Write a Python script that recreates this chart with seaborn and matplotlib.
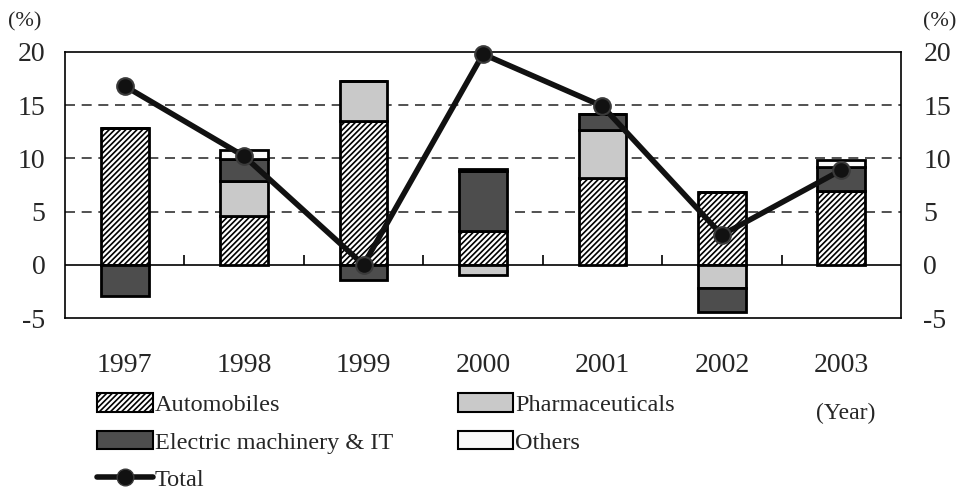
import numpy as np
import matplotlib
matplotlib.use("Agg")
import matplotlib.pyplot as plt
import seaborn as sns
from matplotlib.patches import Patch
from matplotlib.lines import Line2D

# data (%)
years = ["1997", "1998", "1999", "2000", "2001", "2002", "2003"]
automobiles = [12.9, 4.6, 13.5, 3.2, 8.2, 6.8, 6.9]
pharmaceuticals = [0.0, 3.3, 3.8, -1.0, 4.5, -2.2, 0.0]
electric_it = [-2.9, 2.0, -1.4, 5.6, 1.5, -2.2, 2.3]
others = [0.0, 0.9, 0.0, 0.2, 0.0, 0.0, 0.6]
total = [16.8, 10.2, 0.0, 19.8, 14.9, 2.8, 8.9]

series = [
    ("Automobiles", automobiles, dict(color="white", hatch="//////")),
    ("Pharmaceuticals", pharmaceuticals, dict(color="#c9c9c9")),
    ("Electric machinery & IT", electric_it, dict(color="#4d4d4d")),
    ("Others", others, dict(color="#f8f8f8")),
]

sns.set_style("white")
plt.rcParams["font.family"] = ["Liberation Serif", "DejaVu Serif"]
plt.rcParams["axes.unicode_minus"] = False
plt.rcParams["hatch.linewidth"] = 1.2
plt.rcParams["hatch.color"] = "black"

fig = plt.figure(figsize=(9.61, 4.9), dpi=100)
ax = fig.add_axes([0.0676, 0.351, 0.87, 0.543])

pos_base = np.zeros(len(years))
neg_base = np.zeros(len(years))
handles = {}
for name, vals, style in series:
    vals = np.array(vals)
    bottom = np.where(vals >= 0, pos_base, neg_base)
    sns.barplot(x=years, y=vals, bottom=bottom, width=0.4, ax=ax,
                edgecolor="black", linewidth=2, zorder=3, **style)
    pos_base += np.clip(vals, 0, None)
    neg_base += np.clip(vals, None, 0)
    handles[name] = Patch(facecolor=style["color"], hatch=style.get("hatch"),
                          edgecolor="black", linewidth=1.5)

sns.lineplot(x=np.arange(len(years)), y=total, ax=ax, color="#111111",
             linewidth=4, marker="o", markersize=12, markerfacecolor="#111111",
             markeredgecolor="#3a3a3a", markeredgewidth=1.5, zorder=5,
             clip_on=False)

# grid, zero line and category dividers
for v in [5, 10, 15]:
    ax.axhline(v, color="#333333", linestyle=(0, (6, 4)), linewidth=1.2, zorder=1)
ax.axhline(0, color="black", linewidth=1.2, zorder=2)
ax.vlines(np.arange(len(years) - 1) + 0.5, 0, 0.9, color="black", linewidth=1.2, zorder=2)

ax.set_xlim(-0.5, len(years) - 0.5)
ax.set_ylim(-5, 20)
ax.set_yticks([-5, 0, 5, 10, 15, 20])
ax.set_xlabel("")
ax.set_ylabel("")
ax.tick_params(axis="x", length=0, pad=25, labelsize=20)
ax.tick_params(axis="y", length=0, pad=14, labelsize=20)
for s in ax.spines.values():
    s.set_visible(True)
    s.set_color("black")
    s.set_linewidth(1.2)

ax2 = ax.twinx()
ax2.set_ylim(-5, 20)
ax2.set_yticks([-5, 0, 5, 10, 15, 20])
ax2.tick_params(axis="y", length=0, pad=16, labelsize=20)
for s in ax2.spines.values():
    s.set_visible(False)
ax.set_zorder(ax2.get_zorder() + 1)
ax.patch.set_visible(False)

fig.text(0.008, 0.975, "(%)", fontsize=16, va="top", ha="left")
fig.text(0.995, 0.975, "(%)", fontsize=16, va="top", ha="right")
fig.text(0.88, 0.157, "(Year)", fontsize=17, va="center", ha="center")

total_handle = Line2D([], [], color="#111111", linewidth=4, marker="o", markersize=12,
                      markerfacecolor="#111111", markeredgecolor="#3a3a3a")
leg_handles = [handles["Automobiles"], handles["Electric machinery & IT"], total_handle,
               handles["Pharmaceuticals"], handles["Others"]]
leg_labels = ["Automobiles", "Electric machinery & IT", "Total",
              "Pharmaceuticals", "Others"]
fig.legend(leg_handles, leg_labels, ncol=2, loc="upper left",
           bbox_to_anchor=(0.101, 0.197), frameon=False, fontsize=17.5,
           handlelength=2.3, handleheight=0.8, handletextpad=0.08,
           columnspacing=2.65, labelspacing=0.6, borderpad=0, borderaxespad=0)

fig.savefig("out.png", dpi=100)
